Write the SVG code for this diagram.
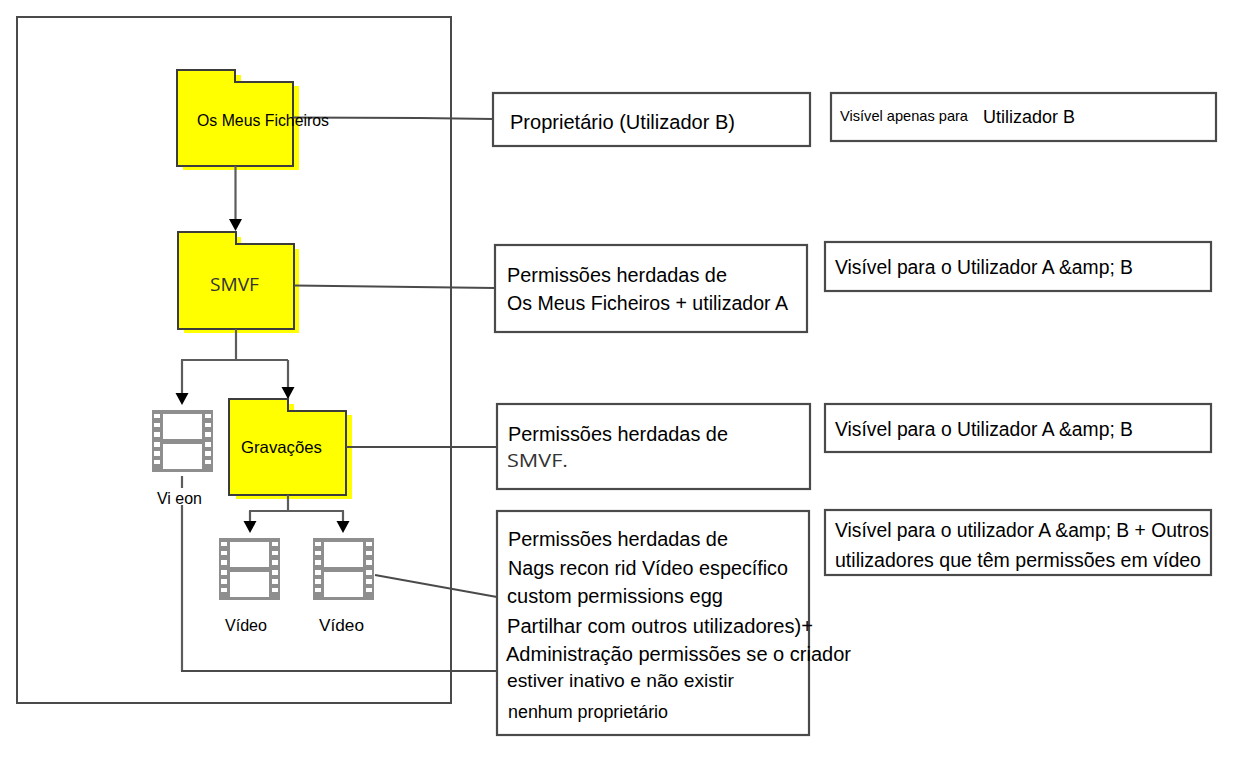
<svg xmlns="http://www.w3.org/2000/svg" width="1234" height="758" viewBox="0 0 1234 758">
<style>
text{font-family:"Liberation Sans",Arial,sans-serif;fill:#000}
.box{fill:#fff;stroke:#4a4a4a;stroke-width:2.2}
.fold{fill:#ff0;stroke:#3c3c3c;stroke-width:2}
.shadow{fill:#ff0;stroke:none}
.line{fill:none;stroke:#4a4a4a;stroke-width:1.8}
.gray{fill:none;stroke:#5c5c5c;stroke-width:2.2}
.head{fill:#000;stroke:none}
.holes{fill:#8e8e8e;stroke:none}
.dim{fill:#333}
</style>
<defs>
<g id="filmstrip">
<rect x="1" y="0" width="61" height="62" fill="#fff"/>
<path class="holes" fill-rule="evenodd" d="M1 0H62V62H1ZM3 4V8H9V4ZM3 13V17H9V13ZM3 22V27H9V22ZM3 32V37H9V32ZM3 41V46H9V41ZM3 50V54H9V50ZM54 4V8H60V4ZM54 13V17H60V13ZM54 22V27H60V22ZM54 32V37H60V32ZM54 41V46H60V41ZM54 50V54H60V50ZM12 4V29H51V4ZM12 34V59H51V34Z"/>
</g>
</defs>

<rect id="frame" x="17" y="17" width="434" height="686" fill="none" stroke="#4a4a4a" stroke-width="2"/>

<!-- folders and film icons sit under the connector lines -->
<g id="my-files">
<path class="shadow" d="M183 75H241V86H299V170H183Z"/>
<path class="fold" d="M177 70H235V82H293V166H177Z"/>
</g>
<g id="smvf">
<path class="shadow" d="M184 237H241V249H299V333H184Z"/>
<path class="fold" d="M178 232H236V244H294V329H178Z"/>
<text x="210" y="291" font-size="19" textLength="49" lengthAdjust="spacingAndGlyphs" class="dim" style="font-family:'Open Sans',sans-serif">SMVF</text>
</g>
<g id="recordings">
<path class="shadow" d="M236 404H294V415H352V499H236Z"/>
<path class="fold" d="M229 399H288V411H346V495H229Z"/>
<text x="241" y="453" font-size="16.500" textLength="81" lengthAdjust="spacingAndGlyphs">Gravações</text>
</g>
<g id="video-root">
<use href="#filmstrip" x="151" y="410"/>
<text x="157" y="504" font-size="16" textLength="45" lengthAdjust="spacingAndGlyphs">Vi eon</text>
</g>
<g id="video-a">
<use href="#filmstrip" x="218" y="538"/>
<text x="225" y="631" font-size="16" textLength="42" lengthAdjust="spacingAndGlyphs">Vídeo</text>
</g>
<g id="video-b">
<use href="#filmstrip" x="312" y="538"/>
<text x="319" y="631" font-size="17" textLength="45" lengthAdjust="spacingAndGlyphs">Vídeo</text>
</g>

<g id="connectors">
<path class="line" d="M294 117.500L420 118L493 119"/>
<path class="gray" d="M235.500 166V224"/>
<path class="line" d="M294 285.500L495 288"/>
<path class="gray" d="M236 329V360M181 360H288"/>
<path class="gray" d="M182 360V396"/>
<path class="gray" d="M288 360V399"/>
<path class="line" d="M346 447L497 447"/>
<path class="gray" d="M288 495V511M249 511H344M250 511V525M343 511V525"/>
<path class="line" d="M375 575L497 597"/>
<path class="gray" d="M182 476V488M182 505V671"/>
<path class="line" d="M181 671H497"/>
<path class="head" d="M175.500 393H188.500L182 405Z"/>
<path class="head" d="M281.500 387H294.500L288 399Z"/>
<path class="head" d="M243.500 521H256.500L250 533Z"/>
<path class="head" d="M336.500 521H349.500L343 533Z"/>
<path class="head" d="M229 219H242L235.500 231Z"/>
</g>

<text id="my-files-label" x="197" y="126" font-size="16" textLength="132" lengthAdjust="spacingAndGlyphs">Os Meus Ficheiros</text>

<g id="owner">
<rect class="box" x="493" y="93" width="317" height="53"/>
<text x="510" y="129" font-size="20.500" textLength="225" lengthAdjust="spacingAndGlyphs">Proprietário (Utilizador B)</text>
</g>
<g id="owner-vis">
<rect class="box" x="831" y="93" width="385" height="48"/>
<text x="840" y="121" font-size="15" textLength="128" lengthAdjust="spacingAndGlyphs">Visível apenas para</text>
<text x="983" y="123" font-size="17.500" textLength="92" lengthAdjust="spacingAndGlyphs">Utilizador B</text>
</g>
<g id="smvf-perm">
<rect class="box" x="495" y="245" width="312" height="87"/>
<text x="507" y="282" font-size="20" textLength="220" lengthAdjust="spacingAndGlyphs">Permissões herdadas de</text>
<text x="507" y="310" font-size="20.500" textLength="281" lengthAdjust="spacingAndGlyphs">Os Meus Ficheiros + utilizador A</text>
</g>
<g id="smvf-vis">
<rect class="box" x="825" y="242" width="386" height="49"/>
<text x="835" y="274" font-size="19.500" textLength="298" lengthAdjust="spacingAndGlyphs">Visível para o Utilizador A &amp;amp; B</text>
</g>
<g id="rec-perm">
<rect class="box" x="497" y="404" width="313" height="85"/>
<text x="508" y="441" font-size="20" textLength="220" lengthAdjust="spacingAndGlyphs">Permissões herdadas de</text>
<text x="507" y="467" font-size="19" textLength="61" lengthAdjust="spacingAndGlyphs" class="dim" style="font-family:'Open Sans',sans-serif">SMVF.</text>
</g>
<g id="rec-vis">
<rect class="box" x="825" y="404" width="386" height="48"/>
<text x="835" y="436" font-size="19.500" textLength="298" lengthAdjust="spacingAndGlyphs">Visível para o Utilizador A &amp;amp; B</text>
</g>
<g id="video-perm">
<rect class="box" x="497" y="511" width="312" height="224"/>
<text x="508" y="546" font-size="20" textLength="220" lengthAdjust="spacingAndGlyphs">Permissões herdadas de</text>
<text x="508" y="575" font-size="20" textLength="280" lengthAdjust="spacingAndGlyphs">Nags recon rid Vídeo específico</text>
<text x="507" y="603" font-size="20" textLength="216" lengthAdjust="spacingAndGlyphs">custom permissions egg</text>
<text x="507" y="633" font-size="20" textLength="306" lengthAdjust="spacingAndGlyphs">Partilhar com outros utilizadores)+</text>
<text x="506" y="661" font-size="20" textLength="345" lengthAdjust="spacingAndGlyphs">Administração permissões se o criador</text>
<text x="507" y="687" font-size="19" textLength="227" lengthAdjust="spacingAndGlyphs">estiver inativo e não existir</text>
<text x="508" y="718" font-size="17.500" textLength="160" lengthAdjust="spacingAndGlyphs">nenhum proprietário</text>
</g>
<g id="video-vis">
<rect class="box" x="825" y="510" width="386" height="65"/>
<text x="835" y="537" font-size="19.500" textLength="374" lengthAdjust="spacingAndGlyphs">Visível para o utilizador A &amp;amp; B + Outros</text>
<text x="835" y="567" font-size="19.500" textLength="366" lengthAdjust="spacingAndGlyphs">utilizadores que têm permissões em vídeo</text>
</g>
</svg>
